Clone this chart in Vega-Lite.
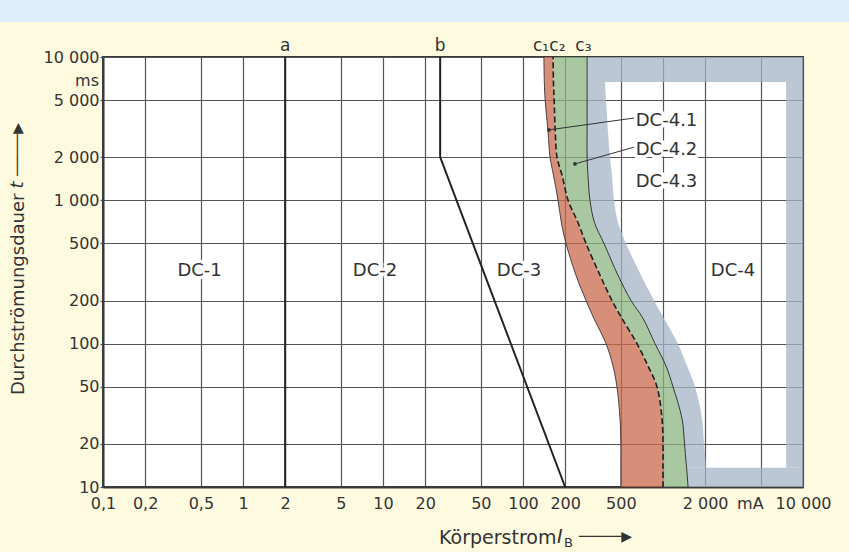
{
  "$schema": "https://vega.github.io/schema/vega-lite/v6.json",
  "width": 700,
  "height": 430,
  "autosize": "none",
  "padding": {"left": 103, "top": 57, "right": 46, "bottom": 65},
  "background": "#FEFADF",
  "config": {
    "view": {"fill": "#FFFFFF", "stroke": "#3a3a3a", "strokeWidth": 2},
    "font": "DejaVu Sans",
    "text": {"font": "DejaVu Sans", "fontSize": 16, "color": "#333333"}
  },
  "datasets": {
    "header": [{"x1": 0.001, "x2": 1000000, "t1": 17580, "t2": 1000000}],
    "zones": [
      {"t": 10, "c1": 500, "c2": 1000, "c3": 1510, "c4": null},
      {"t": 13.6, "c1": 500, "c2": 1000, "c3": 1475, "c4": 2028},
      {"t": 15, "c1": 500, "c2": 1000, "c3": 1460, "c4": 2020},
      {"t": 20, "c1": 500, "c2": 1000, "c3": 1425, "c4": 1963},
      {"t": 30, "c1": 493, "c2": 984, "c3": 1367, "c4": 1900},
      {"t": 50, "c1": 469, "c2": 906, "c3": 1179, "c4": 1693},
      {"t": 70, "c1": 439, "c2": 781, "c3": 1050, "c4": 1484},
      {"t": 100, "c1": 392, "c2": 652, "c3": 877, "c4": 1280},
      {"t": 150, "c1": 321, "c2": 509, "c3": 720, "c4": 1017},
      {"t": 200, "c1": 282, "c2": 432, "c3": 591, "c4": 863},
      {"t": 300, "c1": 239, "c2": 355, "c3": 477, "c4": 697},
      {"t": 500, "c1": 203, "c2": 282, "c3": 379, "c4": 544},
      {"t": 700, "c1": 188, "c2": 247, "c3": 324, "c4": 477},
      {"t": 1000, "c1": 178, "c2": 210, "c3": 301, "c4": 447},
      {"t": 1500, "c1": 165, "c2": 190, "c3": 291, "c4": 432},
      {"t": 2000, "c1": 156, "c2": 175, "c3": 287, "c4": 418},
      {"t": 3000, "c1": 151, "c2": 170, "c3": 287, "c4": 405},
      {"t": 5000, "c1": 144, "c2": 167, "c3": 287, "c4": 392},
      {"t": 6700, "c1": 142, "c2": 165, "c3": 287, "c4": 385},
      {"t": 10000, "c1": 141, "c2": 164, "c3": 287, "c4": null}
    ],
    "frame": [{"x1": 7570, "x2": 10000, "t1": 13.6, "t2": 6700}],
    "limits": [
      {"curve": "a", "i": 1, "x": 2, "t": 10},
      {"curve": "a", "i": 2, "x": 2, "t": 10000},
      {"curve": "b", "i": 1, "x": 25.6, "t": 10000},
      {"curve": "b", "i": 2, "x": 25.6, "t": 2000},
      {"curve": "b", "i": 3, "x": 200, "t": 10}
    ],
    "leaders": [
      {"zone": "DC-4.1", "i": 1, "x": 153, "t": 3100},
      {"zone": "DC-4.1", "i": 2, "x": 631, "t": 3760},
      {"zone": "DC-4.2", "i": 1, "x": 235, "t": 1795},
      {"zone": "DC-4.2", "i": 2, "x": 631, "t": 2360}
    ],
    "dots": [
      {"zone": "DC-4.1", "x": 153, "t": 3100},
      {"zone": "DC-4.2", "x": 235, "t": 1795}
    ],
    "zoneLabels": [
      {"label": "DC-1", "x": 0.49, "t": 321},
      {"label": "DC-2", "x": 8.77, "t": 321},
      {"label": "DC-3", "x": 93.6, "t": 321},
      {"label": "DC-4", "x": 3162, "t": 321},
      {"label": "DC-4.1", "x": 1060, "t": 3580},
      {"label": "DC-4.2", "x": 1060, "t": 2250},
      {"label": "DC-4.3", "x": 1060, "t": 1344}
    ],
    "curveLabels": [
      {"label": "a", "x": 2, "t": 10000},
      {"label": "b", "x": 25.6, "t": 10000},
      {"label": "c₁", "x": 134.5, "t": 10000},
      {"label": "c₂", "x": 176, "t": 10000},
      {"label": "c₃", "x": 270, "t": 10000}
    ],
    "unit": [{"label": "ms", "x": 0.1, "t": 6810}],
    "anchor": [{"x": 0.1, "t": 10}]
  },
  "layer": [
    {
      "data": {"name": "header"},
      "mark": {"type": "rect", "color": "#DCEFFB"},
      "encoding": {
        "x": {"field": "x1", "type": "quantitative", "scale": {"type": "log", "domain": [0.1, 10000]},
          "axis": {
            "values": [0.1, 0.2, 0.5, 1, 2, 5, 10, 20, 50, 100, 200, 500, 1000, 2000, 5000, 10000],
            "labelExpr": "datum.value == 1000 ? '' : datum.value == 5000 ? 'mA' : datum.value < 1 ? replace(format(datum.value, '.1f'), '.', ',') : datum.value >= 1000 ? replace(format(datum.value, ','), ',', ' ') : format(datum.value, 'd')",
            "grid": true, "gridColor": "#555555", "gridWidth": 1.2,
            "ticks": false, "labelPadding": 8,
            "domainColor": "#3a3a3a", "domainWidth": 2,
            "labelFont": "DejaVu Sans", "labelFontSize": 16, "labelColor": "#333333",
            "labelFlush": false, "labelOverlap": false,
            "labelOffset": {"condition": {"test": "datum.value == 5000", "value": -11}, "value": 0},
            "title": "Körperstrom", "titleFont": "DejaVu Sans", "titleFontSize": 19, "titleFontWeight": "normal",
            "titleColor": "#333333", "titleX": 453, "titleY": 56, "titleAlign": "right", "titleBaseline": "alphabetic"
          }},
        "x2": {"field": "x2"},
        "y": {"field": "t1", "type": "quantitative", "scale": {"type": "log", "domain": [10, 10000]},
          "axis": {
            "values": [10, 20, 50, 100, 200, 500, 1000, 2000, 5000, 10000],
            "labelExpr": "datum.value >= 1000 ? replace(format(datum.value, ','), ',', ' ') : format(datum.value, 'd')",
            "grid": true, "gridColor": "#555555", "gridWidth": 1.2,
            "ticks": true, "tickSize": 3, "tickColor": "#555555", "tickWidth": 1.2, "labelPadding": 1,
            "domainColor": "#3a3a3a", "domainWidth": 2,
            "labelFont": "DejaVu Sans", "labelFontSize": 16, "labelColor": "#333333",
            "labelFlush": false, "labelOverlap": false,
            "title": "Durchströmungsdauer", "titleFont": "DejaVu Sans", "titleFontSize": 18, "titleFontWeight": "normal",
            "titleColor": "#333333", "titleAngle": 270, "titleX": -85, "titleY": 136, "titleAlign": "right", "titleBaseline": "middle"
          }},
        "y2": {"field": "t2"}
      }
    },
    {
      "data": {"name": "zones"},
      "mark": {"type": "area", "orient": "horizontal", "interpolate": "catmull-rom", "fill": "#C96A4E", "fillOpacity": 0.75},
      "encoding": {
        "y": {"field": "t", "type": "quantitative", "scale": {"type": "log", "domain": [10, 10000]}},
        "x": {"field": "c1", "type": "quantitative", "scale": {"type": "log", "domain": [0.1, 10000]}, "stack": null},
        "x2": {"field": "c2"}
      }
    },
    {
      "data": {"name": "zones"},
      "mark": {"type": "area", "orient": "horizontal", "interpolate": "catmull-rom", "fill": "#8CB683", "fillOpacity": 0.75},
      "encoding": {
        "y": {"field": "t", "type": "quantitative", "scale": {"type": "log", "domain": [10, 10000]}},
        "x": {"field": "c2", "type": "quantitative", "scale": {"type": "log", "domain": [0.1, 10000]}, "stack": null},
        "x2": {"field": "c3"}
      }
    },
    {
      "data": {"name": "zones"},
      "transform": [{"filter": "isValid(datum.c4)"}],
      "mark": {"type": "area", "orient": "horizontal", "interpolate": "catmull-rom", "fill": "#A6B4C8", "fillOpacity": 0.75},
      "encoding": {
        "y": {"field": "t", "type": "quantitative", "scale": {"type": "log", "domain": [10, 10000]}},
        "x": {"field": "c3", "type": "quantitative", "scale": {"type": "log", "domain": [0.1, 10000]}, "stack": null},
        "x2": {"field": "c4"}
      }
    },
    {
      "data": {"name": "zones"},
      "transform": [{"filter": "datum.t >= 6700"}],
      "mark": {"type": "area", "orient": "horizontal", "fill": "#A6B4C8", "fillOpacity": 0.75},
      "encoding": {
        "y": {"field": "t", "type": "quantitative", "scale": {"type": "log", "domain": [10, 10000]}},
        "x": {"field": "c3", "type": "quantitative", "scale": {"type": "log", "domain": [0.1, 10000]}, "stack": null},
        "x2": {"datum": 10000}
      }
    },
    {
      "data": {"name": "zones"},
      "transform": [{"filter": "datum.t <= 13.6"}],
      "mark": {"type": "area", "orient": "horizontal", "fill": "#A6B4C8", "fillOpacity": 0.75},
      "encoding": {
        "y": {"field": "t", "type": "quantitative", "scale": {"type": "log", "domain": [10, 10000]}},
        "x": {"field": "c3", "type": "quantitative", "scale": {"type": "log", "domain": [0.1, 10000]}, "stack": null},
        "x2": {"datum": 10000}
      }
    },
    {
      "data": {"name": "frame"},
      "mark": {"type": "rect", "fill": "#A6B4C8", "fillOpacity": 0.75},
      "encoding": {
        "x": {"field": "x1", "type": "quantitative", "scale": {"type": "log", "domain": [0.1, 10000]}},
        "x2": {"field": "x2"},
        "y": {"field": "t1", "type": "quantitative", "scale": {"type": "log", "domain": [10, 10000]}},
        "y2": {"field": "t2"}
      }
    },
    {
      "data": {"name": "zones"},
      "mark": {"type": "line", "interpolate": "catmull-rom", "stroke": "#4a4040", "strokeWidth": 1},
      "encoding": {
        "y": {"field": "t", "type": "quantitative", "scale": {"type": "log", "domain": [10, 10000]}},
        "x": {"field": "c1", "type": "quantitative", "scale": {"type": "log", "domain": [0.1, 10000]}},
        "order": {"field": "t"}
      }
    },
    {
      "data": {"name": "zones"},
      "mark": {"type": "line", "interpolate": "catmull-rom", "stroke": "#222222", "strokeWidth": 1.6, "strokeDash": [6, 3]},
      "encoding": {
        "y": {"field": "t", "type": "quantitative", "scale": {"type": "log", "domain": [10, 10000]}},
        "x": {"field": "c2", "type": "quantitative", "scale": {"type": "log", "domain": [0.1, 10000]}},
        "order": {"field": "t"}
      }
    },
    {
      "data": {"name": "zones"},
      "mark": {"type": "line", "interpolate": "catmull-rom", "stroke": "#333333", "strokeWidth": 1},
      "encoding": {
        "y": {"field": "t", "type": "quantitative", "scale": {"type": "log", "domain": [10, 10000]}},
        "x": {"field": "c3", "type": "quantitative", "scale": {"type": "log", "domain": [0.1, 10000]}},
        "order": {"field": "t"}
      }
    },
    {
      "data": {"name": "limits"},
      "mark": {"type": "line", "stroke": "#222222", "strokeWidth": 2},
      "encoding": {
        "y": {"field": "t", "type": "quantitative", "scale": {"type": "log", "domain": [10, 10000]}},
        "x": {"field": "x", "type": "quantitative", "scale": {"type": "log", "domain": [0.1, 10000]}},
        "detail": {"field": "curve"},
        "order": {"field": "i"}
      }
    },
    {
      "data": {"name": "leaders"},
      "mark": {"type": "line", "stroke": "#333333", "strokeWidth": 1},
      "encoding": {
        "y": {"field": "t", "type": "quantitative", "scale": {"type": "log", "domain": [10, 10000]}},
        "x": {"field": "x", "type": "quantitative", "scale": {"type": "log", "domain": [0.1, 10000]}},
        "detail": {"field": "zone"},
        "order": {"field": "i"}
      }
    },
    {
      "data": {"name": "dots"},
      "mark": {"type": "point", "filled": true, "fill": "#333333", "size": 14, "opacity": 1},
      "encoding": {
        "y": {"field": "t", "type": "quantitative", "scale": {"type": "log", "domain": [10, 10000]}},
        "x": {"field": "x", "type": "quantitative", "scale": {"type": "log", "domain": [0.1, 10000]}}
      }
    },
    {
      "data": {"name": "zoneLabels"},
      "mark": {"type": "text", "fill": "#FFFFFF", "stroke": "#FFFFFF", "strokeWidth": 7, "strokeJoin": "round", "fontSize": 18},
      "encoding": {
        "y": {"field": "t", "type": "quantitative", "scale": {"type": "log", "domain": [10, 10000]}},
        "x": {"field": "x", "type": "quantitative", "scale": {"type": "log", "domain": [0.1, 10000]}},
        "text": {"field": "label"}
      }
    },
    {
      "data": {"name": "zoneLabels"},
      "mark": {"type": "text", "fill": "#333333", "fontSize": 18},
      "encoding": {
        "y": {"field": "t", "type": "quantitative", "scale": {"type": "log", "domain": [10, 10000]}},
        "x": {"field": "x", "type": "quantitative", "scale": {"type": "log", "domain": [0.1, 10000]}},
        "text": {"field": "label"}
      }
    },
    {
      "data": {"name": "curveLabels"},
      "mark": {"type": "text", "fill": "#333333", "fontSize": 17, "baseline": "alphabetic", "dy": -6},
      "encoding": {
        "y": {"field": "t", "type": "quantitative", "scale": {"type": "log", "domain": [10, 10000]}},
        "x": {"field": "x", "type": "quantitative", "scale": {"type": "log", "domain": [0.1, 10000]}},
        "text": {"field": "label"}
      }
    },
    {
      "data": {"name": "unit"},
      "mark": {"type": "text", "fill": "#333333", "fontSize": 16, "align": "right", "baseline": "middle", "dx": -4},
      "encoding": {
        "y": {"field": "t", "type": "quantitative", "scale": {"type": "log", "domain": [10, 10000]}},
        "x": {"field": "x", "type": "quantitative", "scale": {"type": "log", "domain": [0.1, 10000]}},
        "text": {"field": "label"}
      }
    },
    {
      "data": {"name": "anchor"},
      "mark": {"type": "text", "text": "I", "fill": "#333333", "fontSize": 19, "fontStyle": "italic", "align": "left", "baseline": "alphabetic", "dx": 454, "dy": 56},
      "encoding": {
        "y": {"field": "t", "type": "quantitative", "scale": {"type": "log", "domain": [10, 10000]}},
        "x": {"field": "x", "type": "quantitative", "scale": {"type": "log", "domain": [0.1, 10000]}}
      }
    },
    {
      "data": {"name": "anchor"},
      "mark": {"type": "text", "text": "B", "fill": "#333333", "fontSize": 13, "align": "left", "baseline": "alphabetic", "dx": 461, "dy": 60},
      "encoding": {
        "y": {"field": "t", "type": "quantitative", "scale": {"type": "log", "domain": [10, 10000]}},
        "x": {"field": "x", "type": "quantitative", "scale": {"type": "log", "domain": [0.1, 10000]}}
      }
    },
    {
      "data": {"name": "anchor"},
      "mark": {"type": "text", "text": "─────▶", "font": "DejaVu Sans", "fill": "#333333", "fontSize": 14, "align": "left", "baseline": "middle", "dx": 476, "dy": 50},
      "encoding": {
        "y": {"field": "t", "type": "quantitative", "scale": {"type": "log", "domain": [10, 10000]}},
        "x": {"field": "x", "type": "quantitative", "scale": {"type": "log", "domain": [0.1, 10000]}}
      }
    },
    {
      "data": {"name": "anchor"},
      "mark": {"type": "text", "text": "t", "fill": "#333333", "fontSize": 18, "fontStyle": "italic", "angle": 270, "align": "center", "baseline": "middle", "dx": 302, "dy": -85},
      "encoding": {
        "y": {"field": "t", "type": "quantitative", "scale": {"type": "log", "domain": [10, 10000]}},
        "x": {"field": "x", "type": "quantitative", "scale": {"type": "log", "domain": [0.1, 10000]}}
      }
    },
    {
      "data": {"name": "anchor"},
      "mark": {"type": "text", "text": "─────▶", "font": "DejaVu Sans", "fill": "#333333", "fontSize": 14, "angle": 270, "align": "left", "baseline": "middle", "dx": 311, "dy": -85},
      "encoding": {
        "y": {"field": "t", "type": "quantitative", "scale": {"type": "log", "domain": [10, 10000]}},
        "x": {"field": "x", "type": "quantitative", "scale": {"type": "log", "domain": [0.1, 10000]}}
      }
    }
  ]
}
